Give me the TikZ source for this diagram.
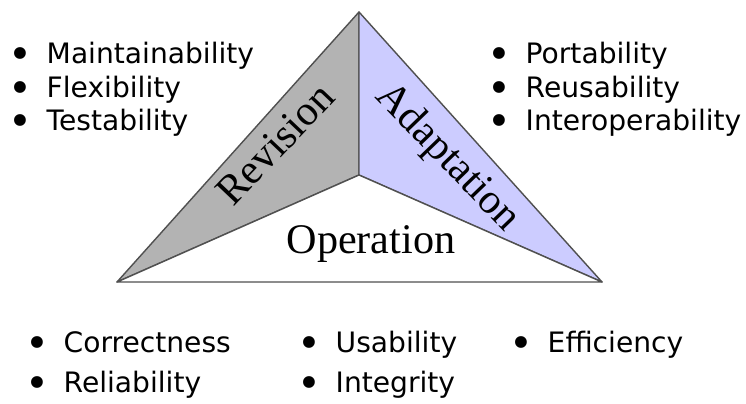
\documentclass[tikz,border=0pt]{standalone}
\usepackage{fontspec}
\setmainfont{DejaVu Sans}
\newfontfamily\facefont{Liberation Serif}
\definecolor{revgray}{HTML}{B3B3B3}
\definecolor{adaptblue}{HTML}{CCCCFF}
\definecolor{edgegray}{HTML}{505050}
\newcommand{\itm}[1]{\makebox[0.34cm][l]{\hspace{-0.04cm}\raisebox{-0.05cm}{\fontsize{11.5}{11.5}\selectfont\textbullet}}#1}
\tikzset{
  item/.style={anchor=base west,inner sep=0pt,font=\fontsize{8}{9.6}\selectfont},
  face/.style={inner sep=0pt,font=\facefont\fontsize{12}{14}\selectfont},
  side/.style={draw=edgegray,line width=0.4pt,line join=round}
}
\begin{document}
\begin{tikzpicture}[x=0.01cm,y=-0.01cm]
              \useasboundingbox (0,0) rectangle (746,403);
              % the triangle
              \coordinate (apex) at (359,12);
              \coordinate (hub) at (359,175);
              \coordinate (lcorner) at (117,282);
              \coordinate (rcorner) at (602,282);
              \path[side,fill=revgray] (lcorner)--(apex)--(hub)--cycle;
              \path[side,fill=adaptblue] (apex)--(rcorner)--(hub)--cycle;
              \path[side,fill=white] (lcorner)--(hub)--(rcorner)--cycle;
              \node[face,rotate=46.5] (revision) at (275,144) {Revision};
              \node[face,rotate=-46] (adaptation) at (447,158) {Adaptation};
              \node[face,anchor=base] (operation) at (371,253) {Operation};
              % revision qualities
              \node[item] (maint) at (12,63) {\itm{Maintainability}};
              \node[item] (flex) at (12,97) {\itm{Flexibility}};
              \node[item] (test) at (12,130) {\itm{Testability}};
              % adaptation qualities
              \node[item] (port) at (491,63) {\itm{Portability}};
              \node[item] (reuse) at (491,97) {\itm{Reusability}};
              \node[item] (inter) at (491,130) {\itm{Interoperability}};
              % operation qualities
              \node[item] (correct) at (29,352) {\itm{Correctness}};
              \node[item] (reliab) at (29,392) {\itm{Reliability}};
              \node[item] (usab) at (301,352) {\itm{Usability}};
              \node[item] (integ) at (301,392) {\itm{Integrity}};
              \node[item] (effic) at (513,352) {\itm{Efficiency}};
\end{tikzpicture}
\end{document}
